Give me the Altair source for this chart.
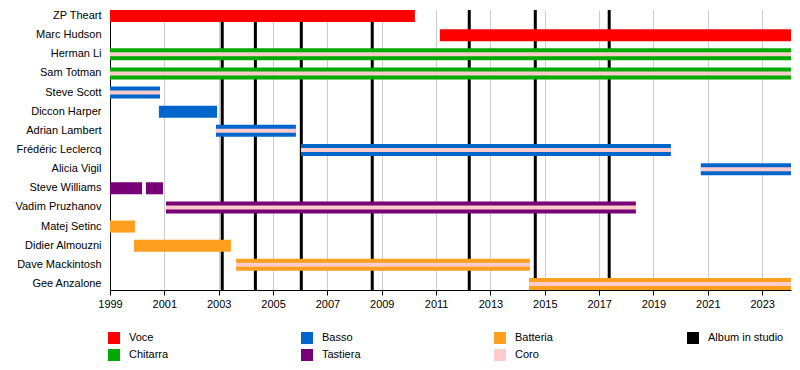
import altair as alt
import pandas as pd

END = 2024.06

members = ["ZP Theart", "Marc Hudson", "Herman Li", "Sam Totman", "Steve Scott",
           "Diccon Harper", "Adrian Lambert", "Frédéric Leclercq", "Alicia Vigil",
           "Steve Williams", "Vadim Pruzhanov", "Matej Setinc", "Didier Almouzni",
           "Dave Mackintosh", "Gee Anzalone"]

bar_member = ["ZP Theart", "Marc Hudson", "Herman Li", "Sam Totman", "Steve Scott",
              "Diccon Harper", "Adrian Lambert", "Frédéric Leclercq", "Alicia Vigil",
              "Steve Williams", "Steve Williams", "Vadim Pruzhanov", "Matej Setinc",
              "Didier Almouzni", "Dave Mackintosh", "Gee Anzalone"]
bar_start = [1999, 2011.14, 1999, 1999, 1999, 2000.80, 2002.90, 2006.03, 2020.74,
             1999, 2000.32, 2001.06, 1999, 1999.88, 2003.64, 2014.42]
bar_end = [2010.22, END, END, END, 2000.84, 2002.94, 2005.84, 2019.64, END,
           2000.18, 2000.95, 2018.35, 1999.92, 2003.45, 2014.45, END]
bar_role = ["Voce", "Voce", "Chitarra", "Chitarra", "Basso", "Basso", "Basso", "Basso",
            "Basso", "Tastiera", "Tastiera", "Tastiera", "Batteria", "Batteria",
            "Batteria", "Batteria"]
bar_coro = [False, False, True, True, True, False, True, True, True,
            False, False, True, False, False, True, True]

albums = [2003.13, 2004.35, 2006.04, 2008.65, 2012.22, 2014.65, 2017.37]

legend_order = ["Voce", "Chitarra", "Basso", "Tastiera", "Batteria", "Coro", "Album in studio"]
legend_colors = ["#FF0000", "#00AA00", "#0066CC", "#770077", "#FF9F1F", "#FFCCCC", "#000000"]

year_ticks = [1999, 2001, 2003, 2005, 2007, 2009, 2011, 2013, 2015, 2017, 2019, 2021, 2023]

bars = pd.DataFrame({"member": bar_member, "start": bar_start, "end": bar_end,
                     "role": bar_role, "coro": bar_coro})
coro = bars[bars["coro"]].copy()
coro["role"] = "Coro"
alb = pd.DataFrame({"year": albums})

x_scale = alt.Scale(domain=[1999, END], nice=False, zero=False)
y_scale = alt.Scale(domain=members, paddingInner=0.4, paddingOuter=0.0135)
color_scale = alt.Scale(domain=legend_order, range=legend_colors)

x_axis = alt.Axis(values=year_ticks, format="d", title=None, grid=True, gridColor="#CCCCCC",
                  gridWidth=1, tickColor="#000000", tickSize=5, domainColor="#000000",
                  labelFontSize=11, labelColor="#000000", labelPadding=3, labelFlush=False,
                  labelOverlap=False)
y_axis = alt.Axis(title=None, ticks=False, tickSize=0, labelPadding=9, domainColor="#000000",
                  labelFontSize=11, labelColor="#000000", grid=False)

legend = alt.Legend(title=None, orient="none", legendX=-2, legendY=322, columns=4,
                    columnPadding=96, rowPadding=5, symbolType="square", symbolSize=144,
                    symbolStrokeWidth=0, labelFontSize=11, labelColor="#000000",
                    labelOffset=9, gridAlign="all", padding=0)

rules = alt.Chart(alb).mark_rule(color="#000000", strokeWidth=3).encode(
    x=alt.X("year:Q", scale=x_scale, axis=x_axis)
)

main = alt.Chart(bars).mark_bar(height=12).encode(
    x=alt.X("start:Q", scale=x_scale, axis=x_axis),
    x2="end:Q",
    y=alt.Y("member:N", scale=y_scale, axis=y_axis, sort=members),
    color=alt.Color("role:N", scale=color_scale, legend=legend),
)

pink = alt.Chart(coro).mark_bar(height=4).encode(
    x=alt.X("start:Q", scale=x_scale),
    x2="end:Q",
    y=alt.Y("member:N", scale=y_scale, sort=members),
    color=alt.Color("role:N", scale=color_scale, legend=legend),
)

chart = alt.layer(rules, main, pink).properties(
    width=681, height=280,
    autosize=alt.AutoSizeParams(type="none"),
    padding={"left": 102, "top": 2, "right": 1, "bottom": 80},
    background="white",
).configure(font="Liberation Sans").configure_view(strokeWidth=0)

chart.save("out.html", embed_options={"renderer": "svg", "actions": False})
